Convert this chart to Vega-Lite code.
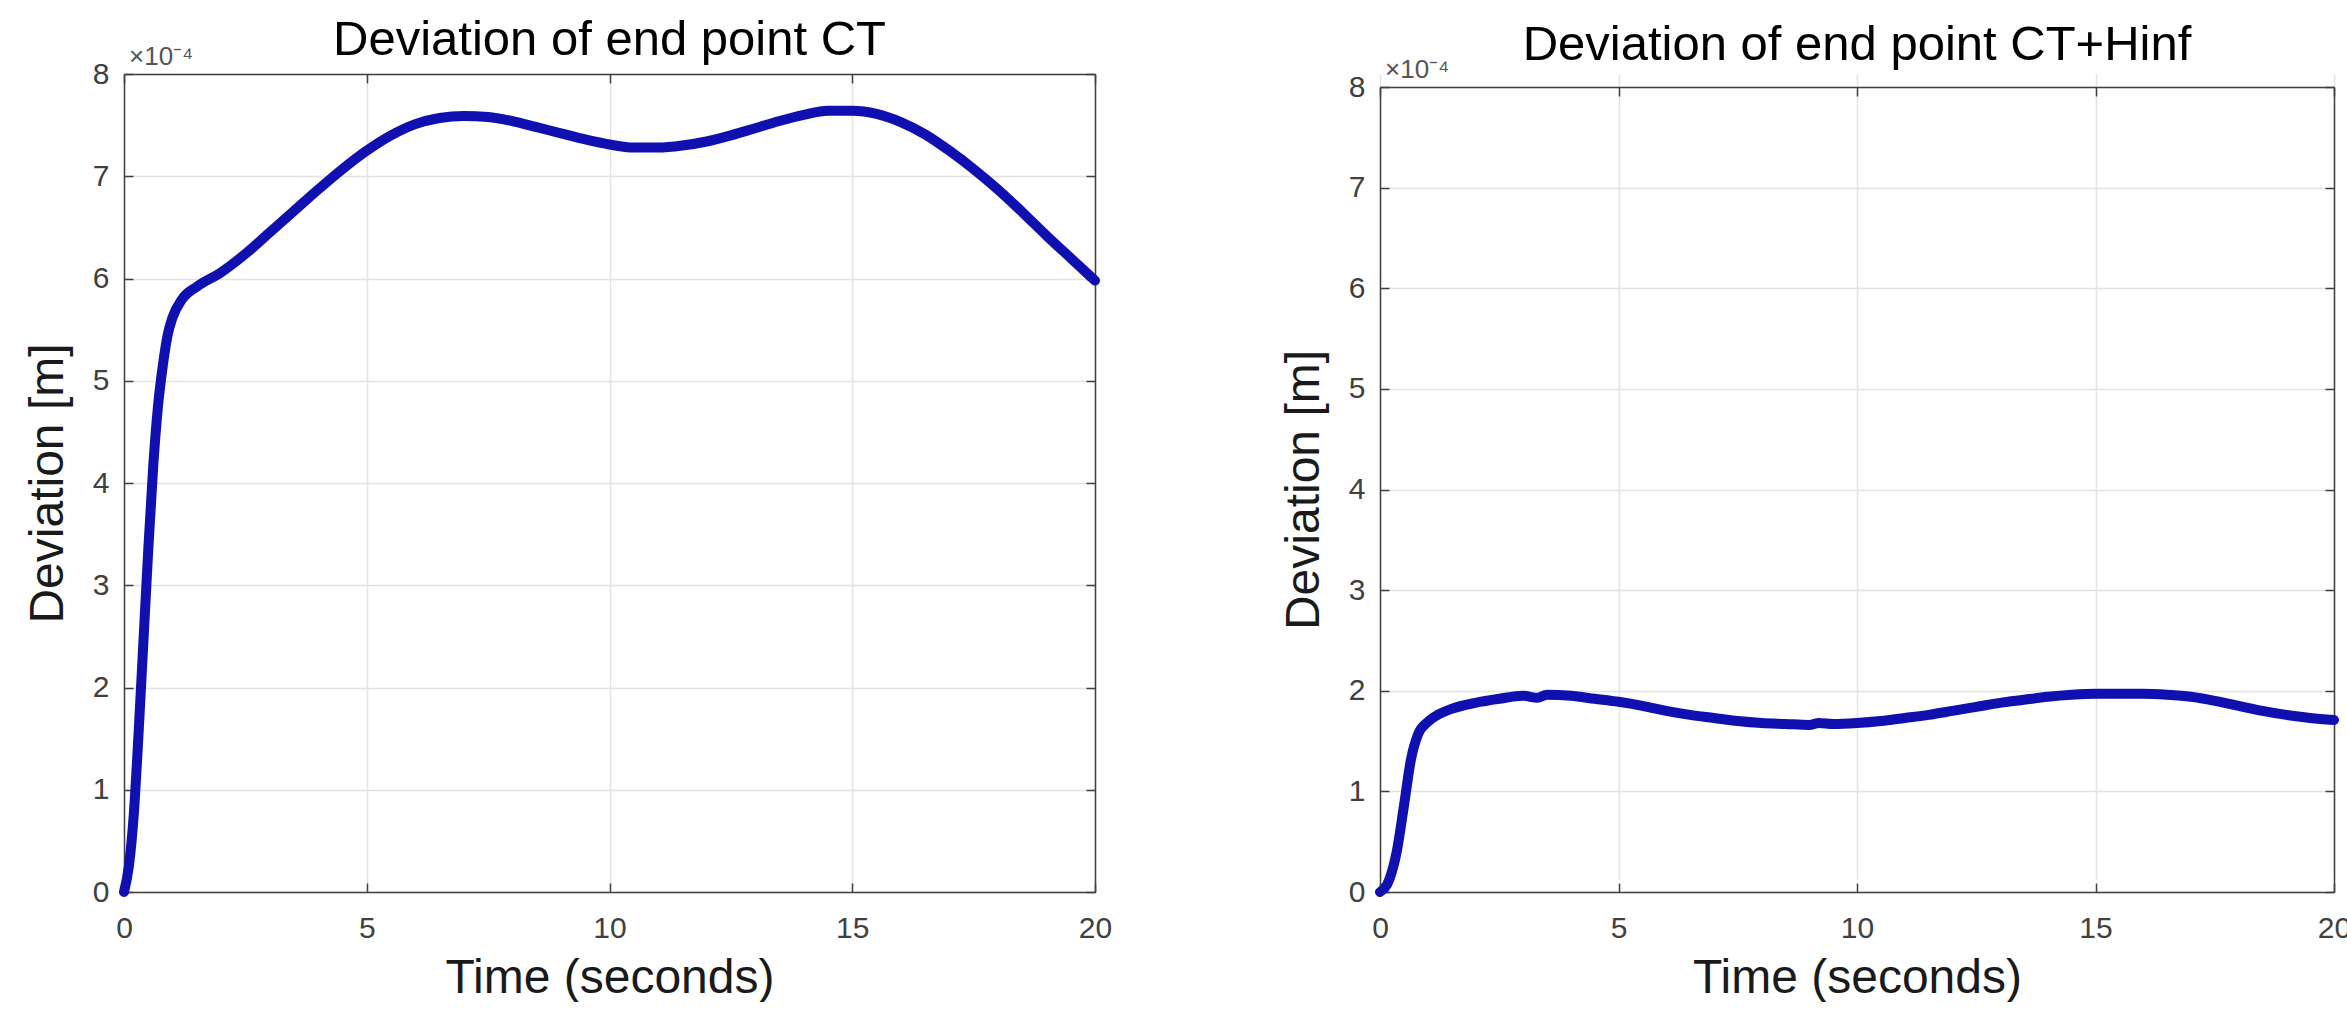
{
  "$schema": "https://vega.github.io/schema/vega-lite/v6.json",
  "background": "white",
  "padding": {"left": 24, "top": 16, "right": 0, "bottom": 0},
  "spacing": 165,
  "datasets": {
    "ct": [
      {"t": 0, "dev": 0}, {"t": 0.1, "dev": 0.25}, {"t": 0.2, "dev": 0.75}, {"t": 0.3, "dev": 1.55},
      {"t": 0.4, "dev": 2.45}, {"t": 0.5, "dev": 3.35}, {"t": 0.6, "dev": 4.15}, {"t": 0.7, "dev": 4.75},
      {"t": 0.8, "dev": 5.15}, {"t": 0.9, "dev": 5.45}, {"t": 1.0, "dev": 5.62}, {"t": 1.2, "dev": 5.8},
      {"t": 1.5, "dev": 5.92}, {"t": 2.0, "dev": 6.06}, {"t": 2.5, "dev": 6.24}, {"t": 3.0, "dev": 6.45},
      {"t": 3.5, "dev": 6.66}, {"t": 4.0, "dev": 6.87}, {"t": 4.5, "dev": 7.07}, {"t": 5.0, "dev": 7.25},
      {"t": 5.5, "dev": 7.4}, {"t": 6.0, "dev": 7.51}, {"t": 6.5, "dev": 7.57}, {"t": 7.0, "dev": 7.59},
      {"t": 7.5, "dev": 7.58}, {"t": 8.0, "dev": 7.54}, {"t": 8.5, "dev": 7.48}, {"t": 9.0, "dev": 7.42},
      {"t": 9.5, "dev": 7.36}, {"t": 10.0, "dev": 7.31}, {"t": 10.5, "dev": 7.28}, {"t": 11.0, "dev": 7.28},
      {"t": 11.5, "dev": 7.3}, {"t": 12.0, "dev": 7.34}, {"t": 12.5, "dev": 7.4}, {"t": 13.0, "dev": 7.47},
      {"t": 13.5, "dev": 7.54}, {"t": 14.0, "dev": 7.6}, {"t": 14.5, "dev": 7.64}, {"t": 15.0, "dev": 7.64},
      {"t": 15.5, "dev": 7.61}, {"t": 16.0, "dev": 7.53}, {"t": 16.5, "dev": 7.41}, {"t": 17.0, "dev": 7.25},
      {"t": 17.5, "dev": 7.07}, {"t": 18.0, "dev": 6.87}, {"t": 18.5, "dev": 6.65}, {"t": 19.0, "dev": 6.42},
      {"t": 19.5, "dev": 6.2}, {"t": 20.0, "dev": 5.98}
    ],
    "cthinf": [
      {"t": 0, "dev": 0}, {"t": 0.2, "dev": 0.13}, {"t": 0.35, "dev": 0.4}, {"t": 0.5, "dev": 0.85},
      {"t": 0.65, "dev": 1.32}, {"t": 0.8, "dev": 1.57}, {"t": 1.0, "dev": 1.69}, {"t": 1.25, "dev": 1.77},
      {"t": 1.5, "dev": 1.82}, {"t": 2.0, "dev": 1.88}, {"t": 2.5, "dev": 1.92}, {"t": 3.0, "dev": 1.95},
      {"t": 3.3, "dev": 1.93}, {"t": 3.5, "dev": 1.96}, {"t": 4.0, "dev": 1.95}, {"t": 4.5, "dev": 1.92},
      {"t": 5.0, "dev": 1.89}, {"t": 5.5, "dev": 1.85}, {"t": 6.0, "dev": 1.8}, {"t": 6.5, "dev": 1.76},
      {"t": 7.0, "dev": 1.73}, {"t": 7.5, "dev": 1.7}, {"t": 8.0, "dev": 1.68}, {"t": 8.5, "dev": 1.67},
      {"t": 9.0, "dev": 1.66}, {"t": 9.2, "dev": 1.68}, {"t": 9.5, "dev": 1.67}, {"t": 10.0, "dev": 1.68},
      {"t": 10.5, "dev": 1.7}, {"t": 11.0, "dev": 1.73}, {"t": 11.5, "dev": 1.76}, {"t": 12.0, "dev": 1.8},
      {"t": 12.5, "dev": 1.84}, {"t": 13.0, "dev": 1.88}, {"t": 13.5, "dev": 1.91}, {"t": 14.0, "dev": 1.94},
      {"t": 14.5, "dev": 1.96}, {"t": 15.0, "dev": 1.97}, {"t": 15.5, "dev": 1.97}, {"t": 16.0, "dev": 1.97},
      {"t": 16.5, "dev": 1.96}, {"t": 17.0, "dev": 1.94}, {"t": 17.5, "dev": 1.9}, {"t": 18.0, "dev": 1.85},
      {"t": 18.5, "dev": 1.8}, {"t": 19.0, "dev": 1.76}, {"t": 19.5, "dev": 1.73}, {"t": 20.0, "dev": 1.71}
    ],
    "exp": [{"t": 0, "dev": 8, "label": "×10⁻⁴"}]
  },
  "config": {
    "font": "Liberation Sans",
    "view": {"stroke": null},
    "axis": {
      "grid": true, "gridColor": "#e3e3e3", "gridWidth": 1.5,
      "domainColor": "#404040", "domainWidth": 1.5,
      "tickColor": "#404040", "tickSize": -9, "tickWidth": 1.5,
      "labelFlush": false, "labelOverlap": false,
      "labelFont": "Liberation Sans", "labelFontSize": 30, "labelColor": "#404040",
      "titleFont": "Liberation Sans", "titleFontSize": 48, "titleFontWeight": "normal", "titleColor": "#1a1a1a"
    },
    "axisX": {"labelPadding": 30, "titlePadding": 11},
    "axisY": {"labelPadding": 24, "titlePadding": 20},
    "title": {"font": "Liberation Sans", "fontSize": 49, "fontWeight": "normal", "color": "#000000", "anchor": "middle", "frame": "group", "baseline": "alphabetic"}
  },
  "hconcat": [
    {
      "width": 971, "height": 818,
      "title": {"text": "Deviation of end point CT", "offset": -21},
      "resolve": {"axis": {"x": "independent", "y": "independent"}},
      "layer": [
        {
          "data": {"name": "ct"},
          "mark": {"type": "line", "color": "#1010b0", "strokeWidth": 10, "interpolate": "monotone", "strokeCap": "round"},
          "encoding": {
            "x": {"field": "t", "type": "quantitative", "scale": {"domain": [0, 20], "nice": false}, "axis": {"values": [0, 5, 10, 15, 20], "title": "Time (seconds)", "format": "d"}},
            "y": {"field": "dev", "type": "quantitative", "scale": {"domain": [0, 8], "nice": false}, "axis": {"values": [0, 1, 2, 3, 4, 5, 6, 7, 8], "title": "Deviation [m]", "format": "d"}}
          }
        },
        {
          "data": {"name": "exp"},
          "mark": {"type": "text", "align": "left", "baseline": "bottom", "dx": 5, "dy": -4, "fontSize": 26, "color": "#555555"},
          "encoding": {
            "x": {"field": "t", "type": "quantitative", "axis": {"orient": "top", "values": [0, 5, 10, 15, 20], "labels": false, "title": null, "grid": false}},
            "y": {"field": "dev", "type": "quantitative", "axis": {"orient": "right", "values": [0, 1, 2, 3, 4, 5, 6, 7, 8], "labels": false, "title": null, "grid": false}},
            "text": {"field": "label"}
          }
        }
      ]
    },
    {
      "width": 954, "height": 818,
      "title": {"text": "Deviation of end point CT+Hinf", "offset": -13},
      "resolve": {"axis": {"x": "independent", "y": "independent"}},
      "layer": [
        {
          "data": {"name": "cthinf"},
          "mark": {"type": "line", "color": "#1010b0", "strokeWidth": 10, "interpolate": "monotone", "strokeCap": "round"},
          "encoding": {
            "x": {"field": "t", "type": "quantitative", "scale": {"domain": [0, 20], "nice": false}, "axis": {"values": [0, 5, 10, 15, 20], "title": "Time (seconds)", "format": "d"}},
            "y": {"field": "dev", "type": "quantitative", "scale": {"domain": [0, 8], "nice": false, "range": [818, 13]}, "axis": {"values": [0, 1, 2, 3, 4, 5, 6, 7, 8], "title": "Deviation [m]", "format": "d"}}
          }
        },
        {
          "data": {"name": "exp"},
          "mark": {"type": "text", "align": "left", "baseline": "bottom", "dx": 5, "dy": -4, "fontSize": 26, "color": "#555555"},
          "encoding": {
            "x": {"field": "t", "type": "quantitative", "axis": {"orient": "top", "offset": -13, "values": [0, 5, 10, 15, 20], "labels": false, "title": null, "grid": false}},
            "y": {"field": "dev", "type": "quantitative", "axis": {"orient": "right", "values": [0, 1, 2, 3, 4, 5, 6, 7, 8], "labels": false, "title": null, "grid": false}},
            "text": {"field": "label"}
          }
        }
      ]
    }
  ]
}
